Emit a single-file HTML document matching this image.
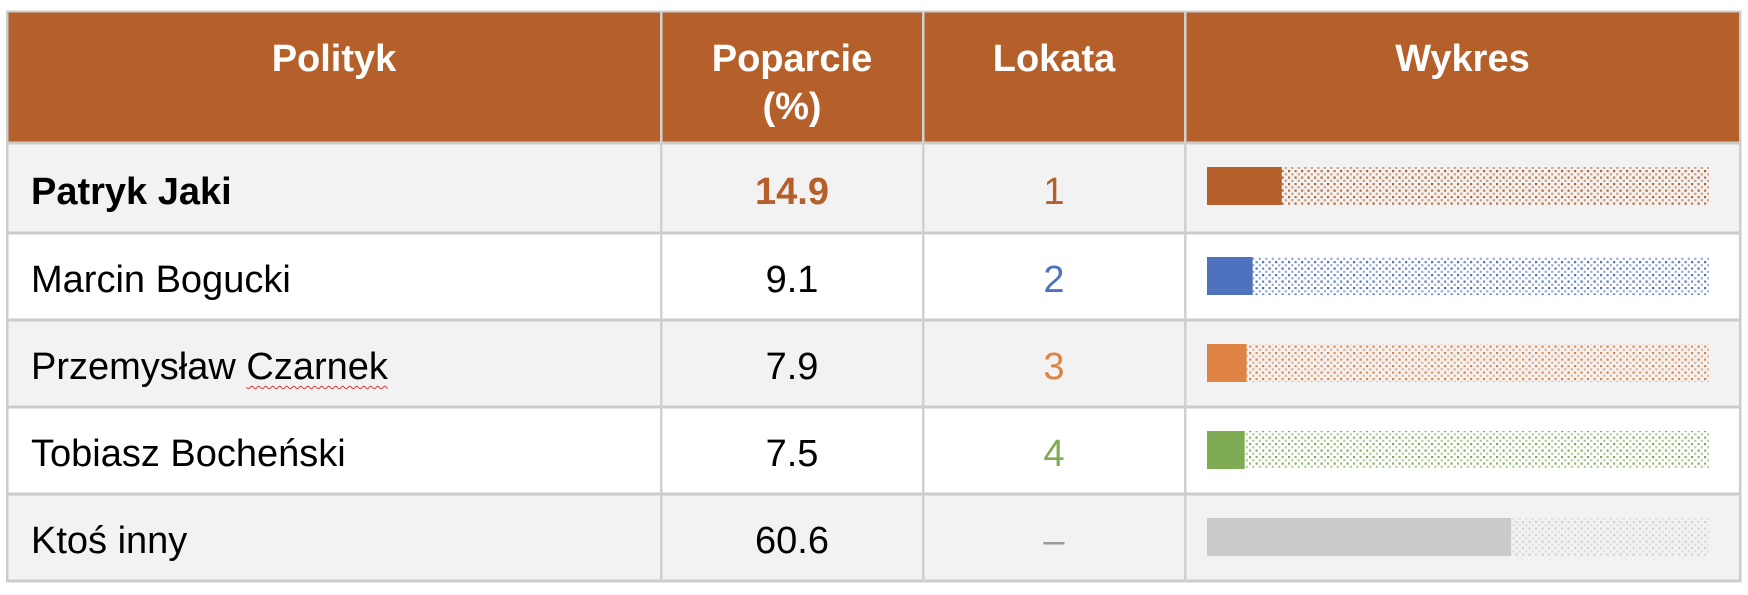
<!DOCTYPE html>
<html><head><meta charset="utf-8"><style>
body{margin:0;width:1748px;height:595px;background:#fff;position:relative;overflow:hidden;font-family:"Liberation Sans",Arial,sans-serif}
.c{position:absolute;box-sizing:border-box}
.h{color:#fff;font-weight:bold;font-size:38px;text-align:center;line-height:48px}
.t{font-size:38px;display:flex;align-items:center;padding-top:8px}
</style></head><body>
<div id="tbl"></div>
<svg id="chart" class="c" style="left:0;top:0" width="1748" height="595"></svg>
<script>
const names=["Patryk Jaki","Marcin Bogucki","Przemysław Czarnek","Tobiasz Bocheński","Ktoś inny"];
const support=[14.9,9.1,7.9,7.5,60.6];
const ranks=["1","2","3","4","–"];
const colors=["#B5602B","#4F72BE","#DE8344","#7FAB55","#CACACA"];
const colX=[7,661,923,1185,1740];
const rowY=[12,143,233,320,407,494,581];
const heads=["Polityk","Poparcie<br>(%)","Lokata","Wykres"];
const hnames=["header-polityk","header-poparcie","header-lokata","header-wykres"];
const tbl=document.getElementById('tbl');
function div(cls,l,t,w,h,html){const d=document.createElement('div');d.className='c '+cls;d.style.cssText=`left:${l}px;top:${t}px;width:${w}px;height:${h}px`;d.innerHTML=html||'';tbl.appendChild(d);return d;}
let hb=div('',colX[0],rowY[0],colX[4]-colX[0],rowY[1]-rowY[0]);hb.style.background='#B5602B';


heads.forEach((h,i)=>{const d=div('h',colX[i],rowY[0]+23,colX[i+1]-colX[i],100,h);

});
names.forEach((n,r)=>{const y0=rowY[r+1],y1=rowY[r+2];
const bg=div('',colX[0],y0,colX[4]-colX[0],y1-y0);bg.style.background=r%2==0?'#F2F2F2':'#fff';


let html='<span>'+n+'</span>';
if(r==2)html='<span>Przemysław <span style="text-decoration:underline wavy #d33;text-decoration-thickness:1px;text-underline-offset:6px">Czarnek</span></span>';
const a=div('t',colX[0]+24,y0,colX[1]-colX[0]-24,y1-y0,html);if(r==0)a.style.fontWeight='bold';


const b=div('t',colX[1],y0,colX[2]-colX[1],y1-y0,support[r].toFixed(1));b.style.justifyContent='center';
if(r==0){b.style.fontWeight='bold';b.style.color=colors[0];}


const c=div('t',colX[2],y0,colX[3]-colX[2],y1-y0,ranks[r]);c.style.justifyContent='center';c.style.color=r<4?colors[r]:'#999';


});
const svg=document.getElementById('chart');const NS='http://www.w3.org/2000/svg';
function el(tag,at){const e=document.createElementNS(NS,tag);for(const k in at)e.setAttribute(k,at[k]);svg.appendChild(e);return e;}
const defs=el('defs',{});
colors.forEach((c,i)=>{const p=document.createElementNS(NS,'pattern');
p.setAttribute('id','dots'+i);p.setAttribute('width','13');p.setAttribute('height','13');p.setAttribute('patternUnits','userSpaceOnUse');
const dc=i==4?'#d0d0d0':c;
[[1,1],[7.5,7.5],[4.2,4.2],[10.7,10.7],[4.2,10.7],[10.7,4.2],[1,7.5],[7.5,1]].forEach(([x,y],k)=>{const q=document.createElementNS(NS,'rect');q.setAttribute('x',x);q.setAttribute('y',y);q.setAttribute('width','2.2');q.setAttribute('height','2.2');q.setAttribute('fill',dc);q.setAttribute('opacity',k<2?'1':(k<6?'0.6':'0.85'));p.appendChild(q);});
defs.appendChild(p);});
const bx0=1207,bx1=1709;const xs=v=>bx0+(bx1-bx0)*v/100;
support.forEach((v,r)=>{const y=rowY[r+1]+24;
const bgr=el('rect',{x:xs(v),y:y,width:bx1-xs(v),height:38,fill:'url(#dots'+r+')'});


const br=el('rect',{x:bx0,y:y,width:xs(v)-bx0,height:38,fill:colors[r]});


});
rowY.forEach((y,i)=>{if(i==0)return;const l=el('rect',{x:colX[0],y:y-1.5,width:colX[4]-colX[0]+1,height:3,fill:'#CCCCCC'});

});
const topBorder=el('rect',{x:colX[0],y:rowY[0]-1.5,width:colX[4]-colX[0]+1,height:2,fill:'#CCCCCC'});


colX.forEach((x,i)=>{const l=el('rect',{x:x-1,y:rowY[0]-1.5,width:2.5,height:rowY[6]-rowY[0]+3,fill:(i==0||i==4)?'#CCCCCC':'#D0D0D0'});

});
</script>
</body></html>
